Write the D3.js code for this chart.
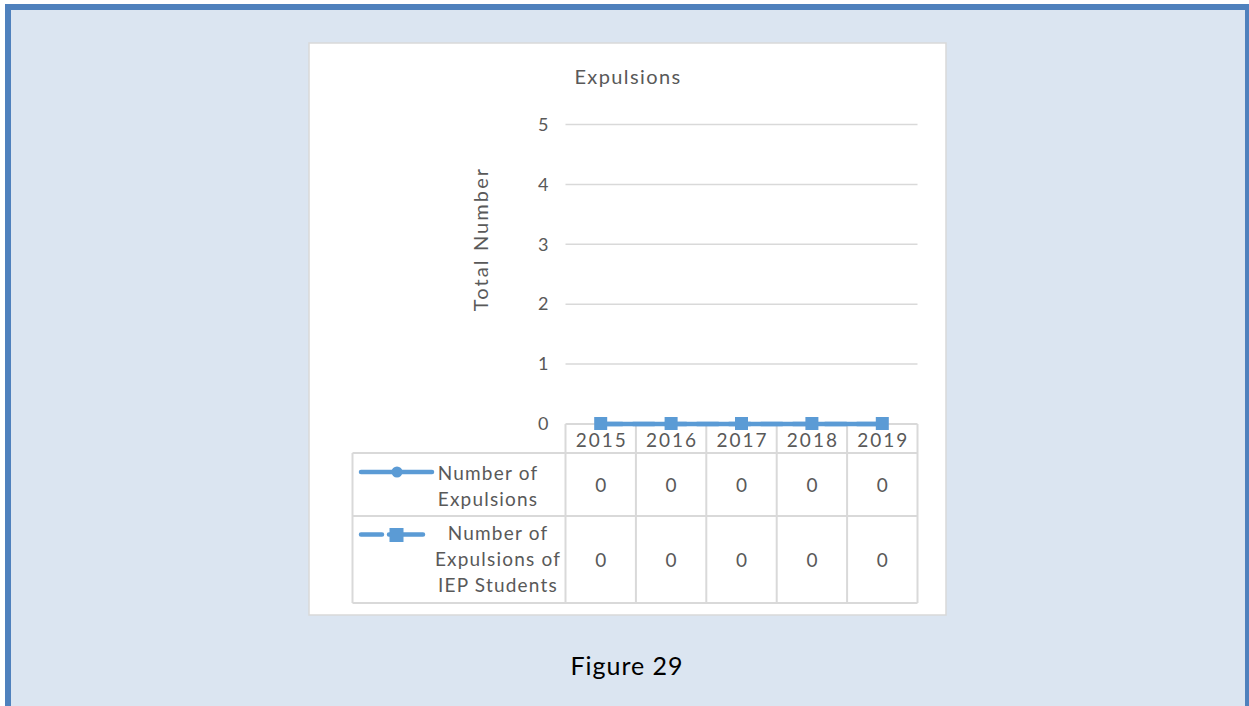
<!DOCTYPE html>
<html>
<head>
<meta charset="utf-8">
<script src="https://cdn.jsdelivr.net/npm/d3@7/dist/d3.min.js"></script>
<style>
  html, body { margin: 0; padding: 0; background: #ffffff; }
  svg { display: block; }
  text { font-family: "Lato", "Noto Sans", sans-serif; }
</style>
</head>
<body>
<svg id="chart" width="1249" height="706"></svg>
<script>
// Chart data
const years = ["2015", "2016", "2017", "2018", "2019"];
const expulsions = [0, 0, 0, 0, 0];
const iepExpulsions = [0, 0, 0, 0, 0];
const seriesNames = [
  ["Number of", "Expulsions"],
  ["Number of", "Expulsions of", "IEP Students"]
];
const yTicks = [0, 1, 2, 3, 4, 5];
const chartTitle = "Expulsions";
const yTitle = "Total Number";
const caption = "Figure 29";

const svg = d3.select("#chart");
const blue = "#5b9bd5";
const grid = "#d9d9d9";
const textGray = "#595959";

// Page frame
svg.append("rect").attr("x", 0).attr("y", 0).attr("width", 1249).attr("height", 706).attr("fill", "#ffffff");
svg.append("rect")
  .attr("x", 8).attr("y", 7).attr("width", 1240).attr("height", 720)
  .attr("fill", "#dbe5f1").attr("stroke", "#4f81bd").attr("stroke-width", 6);

// Chart area
svg.append("rect")
  .attr("x", 309).attr("y", 43).attr("width", 637).attr("height", 572)
  .attr("fill", "#ffffff").attr("stroke", grid).attr("stroke-width", 1.5);

const plotLeft = 565.5, plotRight = 917.5, plotTop = 124.5, plotBottom = 424;
const x = d3.scaleBand().domain(years).range([plotLeft, plotRight]);
const y = d3.scaleLinear().domain([0, 5]).range([plotBottom, plotTop]);

// Title
svg.append("text")
  .attr("x", 628).attr("y", 84).attr("text-anchor", "middle")
  .attr("font-size", 20).attr("fill", textGray).attr("letter-spacing", 1.4)
  .text(chartTitle);

// Gridlines
svg.append("g").selectAll("line")
  .data(yTicks.filter(d => d > 0))
  .join("line")
  .attr("x1", plotLeft).attr("x2", plotRight)
  .attr("y1", d => y(d)).attr("y2", d => y(d))
  .attr("stroke", grid).attr("stroke-width", 1.5);

// Y axis labels
const yAxis = d3.axisLeft(y).tickValues(yTicks).tickSize(0).tickPadding(17).tickFormat(d3.format("d"));
const yg = svg.append("g").attr("transform", `translate(${plotLeft},0)`).call(yAxis);
yg.select(".domain").remove();
yg.selectAll("text")
  .attr("font-family", "Lato, 'Noto Sans', sans-serif")
  .attr("font-size", 18).attr("fill", textGray);

// Y axis title
svg.append("text")
  .attr("transform", "translate(488,239) rotate(-90)")
  .attr("text-anchor", "middle")
  .attr("font-size", 20).attr("fill", textGray).attr("letter-spacing", 2.1)
  .text(yTitle);

// Data table grid
const tableLeft = 352.5;
const headerTop = 424, row1Top = 453, row2Top = 516, tableBottom = 603;
const tg = svg.append("g").attr("stroke", grid).attr("stroke-width", 2).attr("fill", "none");
tg.append("line").attr("x1", plotLeft).attr("x2", plotRight).attr("y1", headerTop).attr("y2", headerTop);
[row1Top, row2Top, tableBottom].forEach(yy => {
  tg.append("line").attr("x1", tableLeft).attr("x2", plotRight).attr("y1", yy).attr("y2", yy);
});
tg.append("line").attr("x1", tableLeft).attr("x2", tableLeft).attr("y1", row1Top).attr("y2", tableBottom);
tg.selectAll("line.col")
  .data(years.map(d => x(d)).concat([plotRight]))
  .join("line").attr("class", "col")
  .attr("x1", d => d).attr("x2", d => d)
  .attr("y1", headerTop).attr("y2", tableBottom);

// Year headers
svg.append("g").selectAll("text")
  .data(years).join("text")
  .attr("x", d => x(d) + x.bandwidth() / 2 + 1).attr("y", 447)
  .attr("text-anchor", "middle").attr("font-size", 19).attr("fill", textGray).attr("letter-spacing", 2)
  .text(d => d);

// Table values
const rowCenters = [(row1Top + row2Top) / 2, (row2Top + tableBottom) / 2];
[expulsions, iepExpulsions].forEach((vals, i) => {
  svg.append("g").selectAll("text")
    .data(vals).join("text")
    .attr("x", (d, j) => x(years[j]) + x.bandwidth() / 2)
    .attr("y", rowCenters[i] + 7)
    .attr("text-anchor", "middle").attr("font-size", 19).attr("fill", textGray)
    .text(d => d);
});

// Legend keys
const k1y = 472;
svg.append("line").attr("x1", 361).attr("x2", 432).attr("y1", k1y).attr("y2", k1y)
  .attr("stroke", blue).attr("stroke-width", 4.5).attr("stroke-linecap", "round");
svg.append("circle").attr("cx", 397).attr("cy", k1y).attr("r", 5.5).attr("fill", blue);

const k2y = 534.5;
svg.append("line").attr("x1", 361).attr("x2", 423).attr("y1", k2y).attr("y2", k2y)
  .attr("stroke", blue).attr("stroke-width", 4.5).attr("stroke-linecap", "round")
  .attr("stroke-dasharray", "21,7,40");
svg.append("rect").attr("x", 389.5).attr("y", 528).attr("width", 14).attr("height", 14).attr("fill", blue);

// Legend names
const nameCenters = [488, 498];
const nameTops = [480, 540];
seriesNames.forEach((lines, i) => {
  const t = svg.append("text").attr("text-anchor", "middle")
    .attr("font-size", 19).attr("fill", textGray).attr("letter-spacing", 1.2);
  lines.forEach((ln, j) => {
    t.append("tspan").attr("x", nameCenters[i]).attr("y", nameTops[i] + j * 26).text(ln);
  });
});

// Series lines and markers
const lineGen = d3.line().x((d, i) => x(years[i]) + x.bandwidth() / 2).y(d => y(d));
svg.append("path").datum(expulsions).attr("d", lineGen)
  .attr("fill", "none").attr("stroke", blue).attr("stroke-width", 4.5).attr("stroke-linecap", "round");
svg.append("g").selectAll("circle").data(expulsions).join("circle")
  .attr("cx", (d, i) => x(years[i]) + x.bandwidth() / 2).attr("cy", d => y(d))
  .attr("r", 5.5).attr("fill", blue);
svg.append("path").datum(iepExpulsions).attr("d", lineGen)
  .attr("fill", "none").attr("stroke", blue).attr("stroke-width", 4.5)
  .attr("stroke-dasharray", "22,10");
svg.append("g").selectAll("rect").data(iepExpulsions).join("rect")
  .attr("x", (d, i) => x(years[i]) + x.bandwidth() / 2 - 6.5).attr("y", d => y(d) - 7)
  .attr("width", 13).attr("height", 13).attr("fill", blue);

// Caption
svg.append("text")
  .attr("x", 627).attr("y", 675).attr("text-anchor", "middle")
  .attr("font-size", 25).attr("fill", "#000000").attr("letter-spacing", 1)
  .text(caption);
</script>
</body>
</html>
